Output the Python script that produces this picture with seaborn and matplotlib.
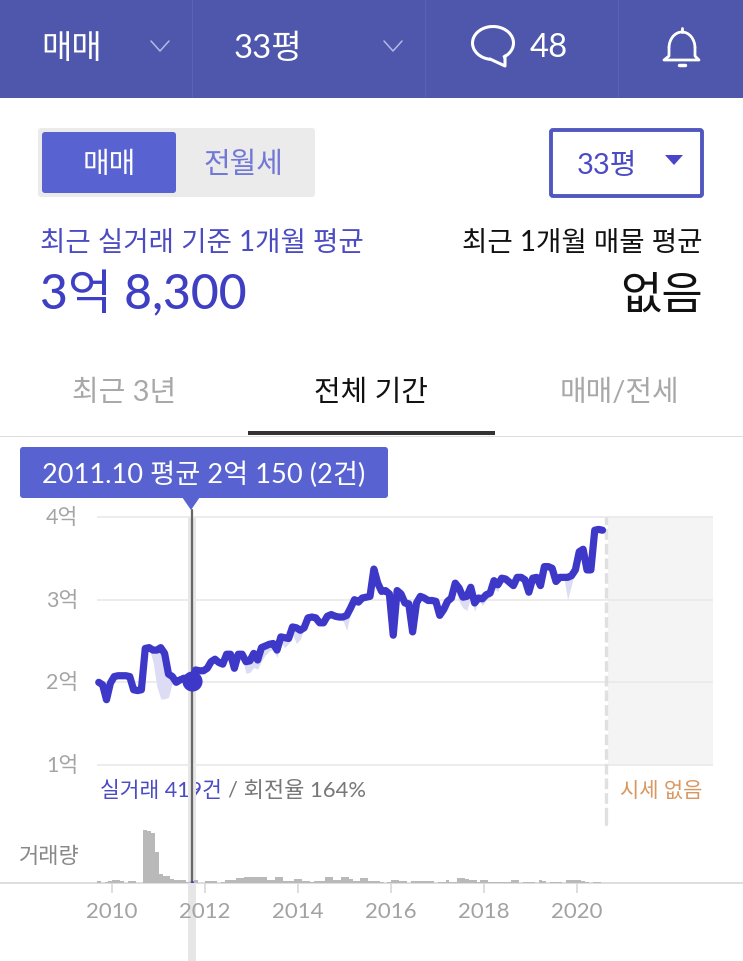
import numpy as np
import pandas as pd
import matplotlib
matplotlib.use('Agg')
import matplotlib.pyplot as plt
from matplotlib.patches import Rectangle, FancyBboxPatch, Polygon, Arc
from matplotlib.transforms import ScaledTranslation
import seaborn as sns

sns.set_style("white")
plt.rcParams['font.family'] = ['Lato', 'Noto Sans CJK KR', 'DejaVu Sans']

# monthly, starting 2009.10
start_year = 2009
start_month = 10

price = [
    2.00, 1.97, 1.79, 1.99, 2.07, 2.08, 2.08, 2.08, 2.07,
    1.91, 1.90, 1.91, 2.41, 2.42, 2.39, 2.39, 2.42, 2.35, 2.10,
    2.07, 2.00, 2.03, 2.05, 2.03, 2.015, 2.15, 2.14, 2.14, 2.17,
    2.25, 2.28, 2.24, 2.22, 2.34, 2.34, 2.17, 2.34, 2.34, 2.25,
    2.26, 2.35, 2.27, 2.42, 2.44, 2.46, 2.47, 2.39, 2.55, 2.54,
    2.53, 2.67, 2.66, 2.63, 2.66, 2.78, 2.79, 2.78, 2.72, 2.72,
    2.80, 2.82, 2.80, 2.79, 2.79, 2.81, 2.90, 3.00, 2.97, 3.02,
    3.03, 3.04, 3.37, 3.20, 3.10, 3.11, 3.07, 2.57, 3.11, 3.07,
    2.96, 2.95, 2.61, 2.96, 3.04, 3.02, 2.99, 2.99, 2.98, 2.81,
    2.88, 2.98, 3.02, 3.20, 3.14, 3.03, 3.04, 3.15, 2.96, 3.02,
    3.01, 3.06, 3.08, 3.23, 3.18, 3.26, 3.25, 3.21, 3.17, 3.27,
    3.27, 3.24, 3.09, 3.26, 3.27, 3.17, 3.40, 3.40, 3.38, 3.22,
    3.27, 3.27, 3.27, 3.29, 3.36, 3.58, 3.61, 3.36, 3.36, 3.84,
    3.85, 3.84]

band_low = [
    2.00, 1.97, 1.79, 1.99, 2.07, 2.08, 2.08, 2.08, 2.07,
    1.91, 1.90, 1.91, 2.41, 2.42, 2.25, 1.95, 1.80, 1.80, 1.82,
    2.00, 2.00, 2.03, 2.05, 2.03, 2.015, 2.15, 2.14, 2.14, 2.17,
    2.25, 2.28, 2.24, 2.22, 2.34, 2.34, 2.17, 2.34, 2.30, 2.11,
    2.12, 2.18, 2.16, 2.26, 2.33, 2.38, 2.40, 2.30, 2.48, 2.42,
    2.47, 2.58, 2.47, 2.52, 2.66, 2.78, 2.79, 2.78, 2.72, 2.72,
    2.80, 2.82, 2.80, 2.79, 2.75, 2.63, 2.85, 3.00, 2.97, 3.02,
    3.03, 3.04, 3.30, 3.20, 3.10, 3.11, 3.07, 2.57, 3.11, 3.07,
    2.96, 2.95, 2.61, 2.96, 3.04, 3.02, 2.99, 2.99, 2.98, 2.81,
    2.82, 2.88, 3.00, 3.12, 2.98, 2.90, 2.87, 3.03, 2.86, 3.00,
    2.93, 3.00, 3.03, 3.13, 3.10, 3.26, 3.25, 3.21, 3.17, 3.27,
    3.27, 3.24, 3.09, 3.26, 3.27, 3.17, 3.40, 3.40, 3.38, 3.22,
    3.27, 3.27, 3.00, 3.18, 3.36, 3.58, 3.61, 3.36, 3.36, 3.84,
    3.85, 3.84]

volume = [
    2, 0, 1, 2, 4, 4, 2, 0, 2, 2, 0, 0,
    70, 69, 66, 41, 12, 9, 9, 5, 3, 4, 4, 1, 2,
    4, 0, 0, 2, 2, 2, 0, 1, 4, 4, 3, 6, 6,
    7, 7, 7, 7, 7, 7, 4, 3, 7, 7, 2, 2, 2,
    5, 5, 2, 2, 1, 2, 2, 2, 7, 7, 4, 4, 7,
    7, 5, 2, 2, 6, 6, 2, 2, 2, 1, 0, 1, 3,
    4, 2, 2, 0, 2, 2, 2, 2, 2, 2, 0, 1, 1,
    4, 1, 1, 6, 6, 5, 4, 4, 1, 3, 3, 1, 1,
    1, 1, 1, 1, 3, 3, 0, 1, 1, 1, 0, 4, 2,
    0, 1, 1, 1, 0, 3, 3, 3, 3, 2, 1, 0, 1, 1, 0]

year_ticks = [2010, 2012, 2014, 2016, 2018, 2020]
price_ticks = [1, 2, 3, 4]
price_labels = ['1억', '2억', '3억', '4억']
selected = 24  # 2011.10

W, H = 743, 962
PURPLE = '#3d38c8'
TEXT_PURPLE = '#4b4bc4'
BTN = '#5862d0'

months = np.arange(len(price))
# the app draws months a touch left of its year ticks
df = pd.DataFrame({'year': start_year + (start_month - 1 + months) / 12 - 0.035,
                   'price': price, 'low': band_low, 'volume': volume})


def px_box(x0, y0, x1, y1):
    return [x0 / W, 1 - (y1 + 1) / H, (x1 - x0) / W, (y1 - y0) / H]


def year_of(px):
    return 2010 + (px - 112) / 46.5


def price_of(py):
    return 4 - (py - 517) / 82.67


fig = plt.figure(figsize=(W / 100, H / 100), dpi=100, facecolor='w')

# ==== page furniture, in pixels
ui = fig.add_axes([0, 0, 1, 1])
ui.set_xlim(0, W)
ui.set_ylim(H - 1, -1)
ui.axis('off')


def label(x, y, s, size, color, ha='center', weight='normal', **kw):
    ui.text(x, y, s, fontsize=size * 0.72, color=color, ha=ha, va='center', weight=weight, **kw)


def rbox(x0, y0, x1, y1, r=3, **kw):
    ui.add_patch(FancyBboxPatch((x0 + r, y0 + r), x1 - x0 - 2 * r, y1 - y0 - 2 * r,
                                boxstyle='round,pad=%d,rounding_size=%d' % (r, r), **kw))


ui.add_patch(Rectangle((0, -1), W, 99, fc='#4e57ab', ec='none'))
for sx in [192, 425, 618]:
    ui.plot([sx, sx], [0, 97], color='#5a63b3', lw=0.8)
label(72, 48, '매매', 33, 'w')
label(268, 48, '33평', 33, 'w')
label(549, 47, '48', 33, 'w')
for cx in [160, 393]:
    ui.plot([cx - 9, cx, cx + 9], [41, 51, 41], color='#b5b9e4', lw=1.1)

# speech bubble
ui.add_patch(Arc((493, 43), 41, 33, theta1=100, theta2=55, color='w', lw=2.2))
ui.plot([505, 505, 490], [56, 66, 59], color='w', lw=2.2, solid_joinstyle='round')
# bell
ui.add_patch(Arc((682, 48), 26, 32, theta1=180, theta2=360, color='w', lw=2.0))
ui.plot([669, 669, 664, 699, 695, 695], [48, 56, 60, 60, 56, 48], color='w', lw=2.0)
ui.plot([682, 682], [28, 32], color='w', lw=2.0)
ui.plot([679, 685], [65, 65], color='w', lw=2.5)

rbox(38, 128, 315, 197, r=3, fc='#ebebeb', ec='none')
rbox(42, 132, 176, 193, r=3, fc=BTN, ec='none')
label(109, 164, '매매', 29, 'w')
label(243, 164, '전월세', 29, '#7278d6')
rbox(551, 130, 702, 196, r=2, fc='w', ec='#5058c0', lw=2.8)
label(607, 165, '33평', 29, TEXT_PURPLE)
ui.add_patch(Polygon([[665, 155], [683, 155], [674, 165]], fc='#4a44cc', ec='none'))

label(40, 242, '최근 실거래 기준 1개월 평균', 27.6, TEXT_PURPLE, ha='left')
label(703, 242, '최근 1개월 매물 평균', 27.6, '#111111', ha='right')
label(40, 293, '3억 8,300', 48, '#3f3fc4', ha='left', weight='medium')
label(703, 295, '없음', 45, '#111111', ha='right')

label(124, 392, '최근 3년', 29, '#a8a8a8')
label(371, 392, '전체 기간', 29, '#111111')
label(619, 392, '매매/전세', 29, '#a8a8a8')
ui.add_patch(Rectangle((0, 435.5), W, 1.5, fc='#dddddd', ec='none'))
ui.add_patch(Rectangle((248, 431), 247, 4, fc='#333333', ec='none'))

ui.add_patch(Rectangle((608, 517), 105, 248, fc='#f4f4f4', ec='none'))
label(100, 790, '실거래 419건', 21.5, TEXT_PURPLE, ha='left')
label(228, 790, '/ 회전율 164%', 22, '#777777', ha='left')
label(702, 790, '시세 없음', 21, '#d9975f', ha='right')
label(19, 856, '거래량', 22, '#888888', ha='left')

# ==== price chart
ax = fig.add_axes(px_box(97, 500, 713, 818), facecolor='none')
ax.axvspan(df['year'][selected] - 4 / 46.5, df['year'][selected] + 4 / 46.5,
           ymax=(818 - 517) / 318, color='#e6e6e6', lw=0, zorder=0)
ax.fill_between(df['year'], df['low'], df['price'], color='#dcdcf5', lw=0, zorder=1)
sns.lineplot(data=df, x='year', y='price', ax=ax, color=PURPLE, lw=5.2, errorbar=None,
             solid_joinstyle='round', solid_capstyle='round', clip_on=False, zorder=3)
ax.axvline(df['year'][selected], ymin=0, ymax=(818 - 510) / 318, color='#666666', lw=1.6, zorder=2)
ax.axvline(year_of(606), ymin=0, ymax=(818 - 517) / 318, color='#e0e0e0', lw=2.4,
           dashes=(3.2, 1.2), zorder=2)
ax.scatter([df['year'][selected]], [df['price'][selected]], s=210, color=PURPLE, lw=0, zorder=4)
ax.set_xlim(year_of(97), year_of(713))
ax.set_ylim(price_of(818), price_of(500))
ax.set_yticks(price_ticks)
ax.set_yticklabels(price_labels, fontsize=15.5, color='#a4a4a4', va='center')
for t in ax.get_yticklabels():
    t.set_transform(t.get_transform() + ScaledTranslation(0, -1.5 / 100, fig.dpi_scale_trans))
ax.set_xticks([])
ax.set_xlabel('')
ax.set_ylabel('')
ax.tick_params(axis='y', length=0, pad=13.5)
ax.grid(axis='y', color='#ebebeb', lw=1.3)
ax.set_axisbelow(True)
sns.despine(ax=ax, left=True, bottom=True)

# ==== volume bars
ax2 = fig.add_axes(px_box(97, 818, 713, 882.5), facecolor='none')
ax2.axvspan(df['year'][selected] - 4 / 46.5, df['year'][selected] + 4 / 46.5,
            ymin=-79.5 / 64.5, ymax=1, color='#e6e6e6', lw=0, zorder=0, clip_on=False)
sns.barplot(data=df, x='year', y='volume', ax=ax2, native_scale=True, color='#b9b9b9',
            saturation=1, width=1, lw=0, zorder=2)
ax2.axvline(df['year'][selected], color='#666666', lw=1.6, zorder=3)
ax2.axvline(year_of(606), ymin=0.9, color='#e0e0e0', lw=2.4, zorder=1)
ax2.set_xlim(year_of(97), year_of(713))
ax2.set_ylim(0, 64.5 / 0.75)
ax2.set_yticks([])
ax2.set_xticks(year_ticks)
ax2.set_xticklabels([str(y) for y in year_ticks], fontsize=16, color='#a2a2a2')
ax2.tick_params(axis='x', length=7.5, width=1.2, color='#d8d8d8', pad=6, bottom=True)
ax2.set_xlabel('')
ax2.set_ylabel('')
sns.despine(ax=ax2, left=True, bottom=True)
ui.plot([0, W], [883, 883], color='#d8d8d8', lw=1.2, zorder=1)
ax2.plot([df['year'][selected]] * 2, [0, 1.2], color=PURPLE, lw=2, zorder=4)

# ==== tooltip goes over the chart
tip = fig.add_axes([0, 0, 1, 1], facecolor='none')
tip.set_xlim(0, W)
tip.set_ylim(H - 1, -1)
tip.axis('off')
tip.add_patch(FancyBboxPatch((23, 450), 362, 45, boxstyle='round,pad=3,rounding_size=3', fc=BTN, ec='none'))
tip.add_patch(Polygon([[182, 497], [200, 497], [191, 510]], fc=BTN, ec='none'))
tip.text(204, 474, '2011.10 평균 2억 150 (2건)', fontsize=27.3 * 0.72, color='w', ha='center', va='center')

fig.savefig('out.png', dpi=100)
